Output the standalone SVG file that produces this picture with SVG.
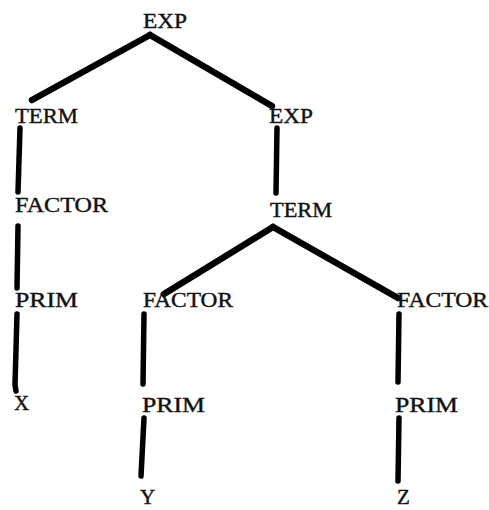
<svg xmlns="http://www.w3.org/2000/svg" width="489" height="510" viewBox="0 0 489 510">
<style>
text{font-family:"Liberation Serif","DejaVu Serif",serif;font-size:21px;fill:#111;stroke:#111;stroke-width:0.4}
.e{stroke:#000;stroke-linecap:round;fill:none}
.d{stroke-width:6.5}
.v{stroke-width:5.5}
</style>
<rect width="489" height="510" fill="#fff"/>
<g id="connectors">
<line class="e d" x1="150" y1="35" x2="32" y2="100"/>
<line class="e d" x1="150" y1="35" x2="272" y2="106"/>
<line class="e v" x1="20" y1="128" x2="18" y2="192"/>
<line class="e v" x1="277" y1="128" x2="276" y2="193"/>
<line class="e v" x1="18" y1="226" x2="17" y2="288"/>
<line class="e d" x1="273" y1="227" x2="164" y2="294"/>
<line class="e d" x1="273" y1="227" x2="398" y2="298"/>
<path class="e v" d="M17 314 L15 385 L16 391"/>
<line class="e v" x1="144" y1="314" x2="143" y2="384"/>
<line class="e v" x1="144" y1="418" x2="141" y2="476"/>
<line class="e v" x1="399" y1="314" x2="398" y2="382"/>
<line class="e v" x1="399" y1="418" x2="398" y2="481"/>
</g>
<g id="exp1"><text x="143" y="28" textLength="44" lengthAdjust="spacingAndGlyphs">EXP</text></g>
<g id="term1"><text x="15" y="123" textLength="63" lengthAdjust="spacingAndGlyphs">TERM</text></g>
<g id="exp2"><text x="269" y="123" textLength="44" lengthAdjust="spacingAndGlyphs">EXP</text></g>
<g id="factor1"><text x="15" y="212" textLength="93" lengthAdjust="spacingAndGlyphs">FACTOR</text></g>
<g id="term2"><text x="270" y="217" textLength="62" lengthAdjust="spacingAndGlyphs">TERM</text></g>
<g id="prim1"><text x="15" y="307" textLength="63" lengthAdjust="spacingAndGlyphs">PRIM</text></g>
<g id="factor2"><text x="143" y="307" textLength="90" lengthAdjust="spacingAndGlyphs">FACTOR</text></g>
<g id="factor3"><text x="397" y="307" textLength="91" lengthAdjust="spacingAndGlyphs">FACTOR</text></g>
<g id="x"><text x="14" y="410">X</text></g>
<g id="prim2"><text x="142" y="412" textLength="63" lengthAdjust="spacingAndGlyphs">PRIM</text></g>
<g id="prim3"><text x="395" y="412" textLength="63" lengthAdjust="spacingAndGlyphs">PRIM</text></g>
<g id="y"><text x="140" y="504">Y</text></g>
<g id="z"><text x="397" y="504">Z</text></g>
</svg>
